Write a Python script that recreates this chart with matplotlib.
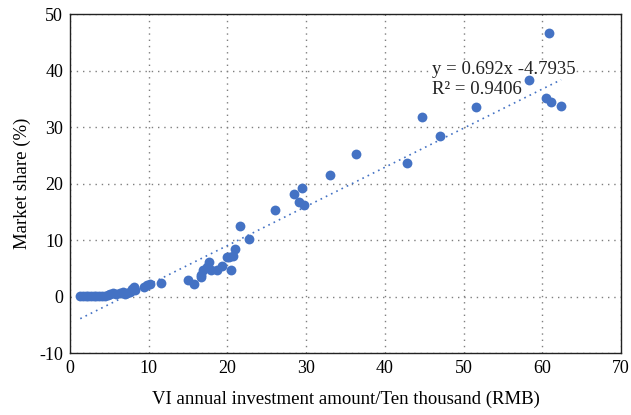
import numpy as np
import matplotlib
matplotlib.use("Agg")
import matplotlib.pyplot as plt

# Data
invest = [1.3, 1.6, 2.0, 2.3, 2.6, 3.0, 3.3, 3.7, 4.0, 4.4, 4.8, 5.1, 5.4, 5.8,
          6.3, 6.7, 7.0, 7.3, 7.6, 7.9, 8.1, 8.3, 9.4, 9.8, 10.2, 11.5,
          15.0, 15.7, 16.6, 16.9, 16.7, 17.4, 17.7, 17.9, 18.7, 19.3, 20.0,
          20.2, 20.7, 20.5, 21.0, 21.6, 22.8,
          26.1, 28.4, 29.1, 29.5, 29.7, 33.0, 36.4, 42.8, 44.7, 47.0, 51.6,
          58.3, 60.5, 60.8, 61.1, 62.4]
share = [0.1, 0.1, 0.1, 0.1, 0.1, 0.1, 0.15, 0.2, 0.2, 0.2, 0.3, 0.5, 0.6, 0.4,
         0.6, 0.8, 0.5, 0.6, 0.9, 1.4, 1.7, 1.2, 1.7, 2.0, 2.2, 2.5,
         2.9, 2.3, 3.8, 4.7, 3.5, 5.3, 6.2, 4.7, 4.7, 5.4, 7.0,
         7.0, 7.2, 4.7, 8.4, 12.5, 10.2,
         15.4, 18.1, 16.7, 19.2, 16.3, 21.6, 25.3, 23.6, 31.8, 28.4, 33.5,
         38.3, 35.2, 46.7, 34.4, 33.7]

# Linear trend line shown on the chart
slope = 0.692
intercept = -4.7935
r2 = 0.9406

xticks = [0, 10, 20, 30, 40, 50, 60, 70]
yticks = [-10, 0, 10, 20, 30, 40, 50]

plt.rcParams["font.family"] = ["Liberation Serif", "DejaVu Serif"]
plt.rcParams["axes.unicode_minus"] = False

fig = plt.figure(figsize=(6.31, 4.15), dpi=100)
ax = fig.add_axes([0.111, 0.149, 0.873, 0.817])

blue = "#4472C4"
ax.scatter(invest, share, s=50, color=blue, zorder=3, linewidths=0)

xs = np.array([min(invest), max(invest)])
ax.plot(xs, slope * xs + intercept, color=blue, linestyle=(0, (1, 2.5)),
        linewidth=1.2, zorder=2.7)

ax.set_xlim(0, 70)
ax.set_ylim(-10, 50)
ax.set_xticks(xticks)
ax.set_yticks(yticks)
ax.grid(True, color="#7f7f7f", linestyle=(0, (1, 3.5)), linewidth=1.0)
ax.tick_params(length=0, labelsize=13, pad=5)
for sp in ax.spines.values():
    sp.set_color("#222222")
    sp.set_linewidth(1.0)

ax.set_xlabel("VI annual investment amount/Ten thousand (RMB)", fontsize=13.5,
              labelpad=10)
ax.set_ylabel("Market share (%)", fontsize=13.5, labelpad=6)

ax.text(46.0, 35.8, "y = 0.692x -4.7935\nR² = %.4f" % r2, fontsize=13.5,
        color="#222222", linespacing=1.25, va="baseline",
        bbox=dict(facecolor="white", edgecolor="none", pad=0.3), zorder=2.5)

fig.savefig("out.png", dpi=100)
